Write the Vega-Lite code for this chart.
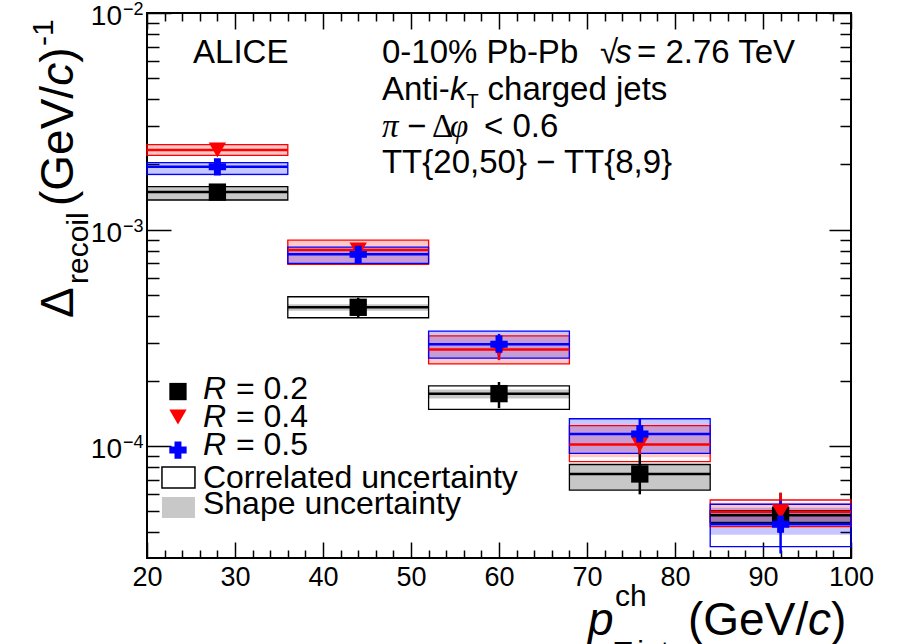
{
  "$schema": "https://vega.github.io/schema/vega-lite/v6.json",
  "width": 704,
  "height": 545,
  "autosize": {"type": "none"},
  "padding": {"left": 147, "top": 13, "right": 57, "bottom": 86},
  "background": "white",
  "config": {
    "view": {"stroke": "black", "strokeWidth": 2},
    "font": "Liberation Sans",
    "text": {"font": "Liberation Sans", "color": "black", "align": "left", "baseline": "alphabetic"}
  },
  "datasets": {
    "main": [
      {"R": "0.2", "xc": 28, "xlo": 20, "xhi": 36, "val": 0.00149, "stlo": 0.00145, "sthi": 0.00153, "shlo": 0.00137, "shhi": 0.00158, "colo": 0.00137, "cohi": 0.00158},
      {"R": "0.2", "xc": 44, "xlo": 36, "xhi": 52, "val": 0.000438, "stlo": 0.000395, "sthi": 0.000485, "shlo": 0.000422, "shhi": 0.000452, "colo": 0.000392, "cohi": 0.00049},
      {"R": "0.2", "xc": 60, "xlo": 52, "xhi": 68, "val": 0.000175, "stlo": 0.00015, "sthi": 0.000198, "shlo": 0.000166, "shhi": 0.000183, "colo": 0.000148, "cohi": 0.00019},
      {"R": "0.2", "xc": 76, "xlo": 68, "xhi": 84, "val": 0.0000745, "stlo": 0.00006, "sthi": 0.0001, "shlo": 0.0000628, "shhi": 0.0000824, "colo": 0.0000628, "cohi": 0.0000824},
      {"R": "0.2", "xc": 92, "xlo": 84, "xhi": 100, "val": 0.0000481, "stlo": 0.0000397, "sthi": 0.000061, "shlo": 0.0000445, "shhi": 0.0000505, "colo": 0.0000445, "cohi": 0.0000505},
      {"R": "0.4", "xc": 28, "xlo": 20, "xhi": 36, "val": 0.00233, "stlo": 0.00225, "sthi": 0.00242, "shlo": 0.0022, "shhi": 0.00247, "colo": 0.0022, "cohi": 0.00247},
      {"R": "0.4", "xc": 44, "xlo": 36, "xhi": 52, "val": 0.000805, "stlo": 0.00076, "sthi": 0.00085, "shlo": 0.0007, "shhi": 0.00089, "colo": 0.000692, "cohi": 0.000895},
      {"R": "0.4", "xc": 60, "xlo": 52, "xhi": 68, "val": 0.00028, "stlo": 0.00025, "sthi": 0.00031, "shlo": 0.00024, "shhi": 0.000323, "colo": 0.00024, "cohi": 0.000323},
      {"R": "0.4", "xc": 76, "xlo": 68, "xhi": 84, "val": 0.000102, "stlo": 0.000092, "sthi": 0.000112, "shlo": 0.000089, "shhi": 0.0001245, "colo": 0.000085, "cohi": 0.0001245},
      {"R": "0.4", "xc": 92, "xlo": 84, "xhi": 100, "val": 0.0000499, "stlo": 0.000044, "sthi": 0.000061, "shlo": 0.000045, "shhi": 0.000055, "colo": 0.0000426, "cohi": 0.0000565},
      {"R": "0.5", "xc": 28, "xlo": 20, "xhi": 36, "val": 0.00195, "stlo": 0.00188, "sthi": 0.00203, "shlo": 0.00178, "shhi": 0.00204, "colo": 0.0018, "cohi": 0.00204},
      {"R": "0.5", "xc": 44, "xlo": 36, "xhi": 52, "val": 0.000769, "stlo": 0.00072, "sthi": 0.00082, "shlo": 0.000699, "shhi": 0.00083, "colo": 0.000699, "cohi": 0.00083},
      {"R": "0.5", "xc": 60, "xlo": 52, "xhi": 68, "val": 0.000296, "stlo": 0.00026, "sthi": 0.00033, "shlo": 0.000255, "shhi": 0.00034, "colo": 0.000255, "cohi": 0.00034},
      {"R": "0.5", "xc": 76, "xlo": 68, "xhi": 84, "val": 0.000114, "stlo": 0.000096, "sthi": 0.000134, "shlo": 0.0000927, "shhi": 0.000134, "colo": 0.0000927, "cohi": 0.000134},
      {"R": "0.5", "xc": 92, "xlo": 84, "xhi": 100, "val": 0.0000437, "stlo": 0.000032, "sthi": 0.000056, "shlo": 0.000039, "shhi": 0.000052, "colo": 0.0000344, "cohi": 0.000054}
    ],
    "decades": [
      {"v": 0.01, "e": "−2"},
      {"v": 0.001, "e": "−3"},
      {"v": 0.0001, "e": "−4"}
    ]
  },
  "data": {"name": "main"},
  "resolve": {"axis": {"x": "independent", "y": "independent"}},
  "layer": [
    {
      "mark": {"type": "rect", "fillOpacity": 0.22, "strokeWidth": 0},
      "encoding": {
        "x": {"field": "xlo", "type": "quantitative", "scale": {"domain": [20, 100], "nice": false, "zero": false},
          "axis": {"orient": "bottom", "title": null, "grid": false, "domain": false,
            "values": [20,22,24,26,28,30,32,34,36,38,40,42,44,46,48,50,52,54,56,58,60,62,64,66,68,70,72,74,76,78,80,82,84,86,88,90,92,94,96,98,100],
            "labelExpr": "datum.value % 10 === 0 ? datum.label : ''",
            "tickSize": {"condition": {"test": "datum.value % 10 === 0", "value": -16}, "value": -8},
            "tickColor": "black", "tickWidth": 1.5, "labelPadding": 22,
            "labelFont": "Liberation Sans", "labelFontSize": 27, "labelColor": "black",
            "labelFlush": false, "labelOverlap": false, "labelBound": false}},
        "x2": {"field": "xhi"},
        "y": {"field": "shlo", "type": "quantitative", "scale": {"type": "log", "domain": [0.0000305, 0.01], "nice": false},
          "axis": {"orient": "left", "title": null, "grid": false, "domain": false, "labels": false,
            "values": [0.00004,0.00005,0.00006,0.00007,0.00008,0.00009,0.0001,0.0002,0.0003,0.0004,0.0005,0.0006,0.0007,0.0008,0.0009,0.001,0.002,0.003,0.004,0.005,0.006,0.007,0.008,0.009,0.01],
            "tickSize": {"condition": {"test": "datum.value === 0.01 || datum.value === 0.001 || datum.value === 0.0001", "value": -24}, "value": -12},
            "tickColor": "black", "tickWidth": 1.5}},
        "y2": {"field": "shhi"},
        "fill": {"field": "R", "type": "nominal", "scale": {"domain": ["0.2", "0.4", "0.5"], "range": ["#000000", "#ff0000", "#0000ff"]}, "legend": null}
      }
    },
    {
      "mark": {"type": "rect", "fillOpacity": 0, "strokeWidth": 1.3},
      "encoding": {
        "x": {"field": "xlo", "type": "quantitative",
          "axis": {"orient": "top", "title": null, "grid": false, "domain": false, "labels": false,
            "values": [20,22,24,26,28,30,32,34,36,38,40,42,44,46,48,50,52,54,56,58,60,62,64,66,68,70,72,74,76,78,80,82,84,86,88,90,92,94,96,98,100],
            "tickSize": {"condition": {"test": "datum.value % 10 === 0", "value": -16}, "value": -8},
            "tickColor": "black", "tickWidth": 1.5}},
        "x2": {"field": "xhi"},
        "y": {"field": "colo", "type": "quantitative",
          "axis": {"orient": "right", "title": null, "grid": false, "domain": false, "labels": false,
            "values": [0.00004,0.00005,0.00006,0.00007,0.00008,0.00009,0.0001,0.0002,0.0003,0.0004,0.0005,0.0006,0.0007,0.0008,0.0009,0.001,0.002,0.003,0.004,0.005,0.006,0.007,0.008,0.009,0.01],
            "tickSize": {"condition": {"test": "datum.value === 0.01 || datum.value === 0.001 || datum.value === 0.0001", "value": -22}, "value": -11},
            "tickColor": "black", "tickWidth": 1.5}},
        "y2": {"field": "cohi"},
        "stroke": {"field": "R", "type": "nominal", "scale": {"domain": ["0.2", "0.4", "0.5"], "range": ["#000000", "#ff0000", "#0000ff"]}, "legend": null}
      }
    },
    {
      "mark": {"type": "rule", "strokeWidth": 2.5},
      "encoding": {
        "x": {"field": "xlo", "type": "quantitative", "axis": null},
        "x2": {"field": "xhi"},
        "y": {"field": "val", "type": "quantitative", "axis": null},
        "color": {"field": "R", "type": "nominal", "scale": {"domain": ["0.2", "0.4", "0.5"], "range": ["#000000", "#ff0000", "#0000ff"]}, "legend": null}
      }
    },
    {
      "mark": {"type": "rule", "strokeWidth": 2.5},
      "encoding": {
        "x": {"field": "xc", "type": "quantitative", "axis": null},
        "y": {"field": "stlo", "type": "quantitative", "axis": null},
        "y2": {"field": "sthi"},
        "color": {"field": "R", "type": "nominal", "legend": null}
      }
    },
    {
      "mark": {"type": "point", "filled": true, "opacity": 1, "size": 300},
      "encoding": {
        "x": {"field": "xc", "type": "quantitative", "axis": null},
        "y": {"field": "val", "type": "quantitative", "axis": null},
        "color": {"field": "R", "type": "nominal", "legend": null},
        "shape": {"field": "R", "type": "nominal", "scale": {"domain": ["0.2", "0.4", "0.5"], "range": ["square", "triangle-down", "cross"]}, "legend": null}
      }
    },
    {"data": {"name": "decades"}, "mark": {"type": "text", "text": "10", "fontSize": 28, "align": "right", "dy": 12},
      "encoding": {"x": {"datum": 17.16, "axis": null}, "y": {"field": "v", "type": "quantitative", "axis": null}}},
    {"data": {"name": "decades"}, "mark": {"type": "text", "fontSize": 18, "align": "left", "dy": 2},
      "encoding": {"x": {"datum": 17.27, "axis": null}, "y": {"field": "v", "type": "quantitative", "axis": null}, "text": {"field": "e"}}},
    {"data": {"values": [{}]}, "mark": {"type": "point", "shape": "square", "filled": true, "opacity": 1, "color": "#000000", "size": 300},
      "encoding": {"x": {"datum": 23.52, "axis": null}, "y": {"datum": 0.0001789, "axis": null}}},
    {"data": {"values": [{}]}, "mark": {"type": "point", "shape": "triangle-down", "filled": true, "opacity": 1, "color": "#ff0000", "size": 300},
      "encoding": {"x": {"datum": 23.52, "axis": null}, "y": {"datum": 0.0001364, "axis": null}}},
    {"data": {"values": [{}]}, "mark": {"type": "point", "shape": "cross", "filled": true, "opacity": 1, "color": "#0000ff", "size": 300},
      "encoding": {"x": {"datum": 23.52, "axis": null}, "y": {"datum": 0.00009605, "axis": null}}},
    {"data": {"values": [{}]}, "mark": {"type": "rect", "fillOpacity": 0, "stroke": "black", "strokeWidth": 1.5},
      "encoding": {"x": {"datum": 21.7, "axis": null}, "x2": {"datum": 25.45}, "y": {"datum": 0.0000802, "axis": null}, "y2": {"datum": 0.0000641}}},
    {"data": {"values": [{}]}, "mark": {"type": "rect", "fill": "#c8c8c8", "strokeWidth": 0},
      "encoding": {"x": {"datum": 21.7, "axis": null}, "x2": {"datum": 25.45}, "y": {"datum": 0.0000583, "axis": null}, "y2": {"datum": 0.0000466}}},
    {"data": {"values": [{}]}, "mark": {"type": "text", "text": "R", "fontSize": 32, "fontStyle": "italic"},
      "encoding": {"x": {"datum": 26.36, "axis": null}, "y": {"datum": 0.0001652, "axis": null}}},
    {"data": {"values": [{}]}, "mark": {"type": "text", "text": "= 0.2", "fontSize": 32},
      "encoding": {"x": {"datum": 30.11, "axis": null}, "y": {"datum": 0.0001652, "axis": null}}},
    {"data": {"values": [{}]}, "mark": {"type": "text", "text": "R", "fontSize": 32, "fontStyle": "italic"},
      "encoding": {"x": {"datum": 26.36, "axis": null}, "y": {"datum": 0.0001226, "axis": null}}},
    {"data": {"values": [{}]}, "mark": {"type": "text", "text": "= 0.4", "fontSize": 32},
      "encoding": {"x": {"datum": 30.11, "axis": null}, "y": {"datum": 0.0001226, "axis": null}}},
    {"data": {"values": [{}]}, "mark": {"type": "text", "text": "R", "fontSize": 32, "fontStyle": "italic"},
      "encoding": {"x": {"datum": 26.36, "axis": null}, "y": {"datum": 0.0000911, "axis": null}}},
    {"data": {"values": [{}]}, "mark": {"type": "text", "text": "= 0.5", "fontSize": 32},
      "encoding": {"x": {"datum": 30.11, "axis": null}, "y": {"datum": 0.0000911, "axis": null}}},
    {"data": {"values": [{}]}, "mark": {"type": "text", "text": "Correlated uncertainty", "fontSize": 32},
      "encoding": {"x": {"datum": 26.36, "axis": null}, "y": {"datum": 0.0000641, "axis": null}}},
    {"data": {"values": [{}]}, "mark": {"type": "text", "text": "Shape uncertainty", "fontSize": 32},
      "encoding": {"x": {"datum": 26.36, "axis": null}, "y": {"datum": 0.0000486, "axis": null}}},
    {"data": {"values": [{}]}, "mark": {"type": "text", "text": "ALICE", "fontSize": 33},
      "encoding": {"x": {"datum": 25.23, "axis": null}, "y": {"datum": 0.005877, "axis": null}}},
    {"data": {"values": [{}]}, "mark": {"type": "text", "text": "0-10% Pb-Pb", "fontSize": 33},
      "encoding": {"x": {"datum": 46.7, "axis": null}, "y": {"datum": 0.005877, "axis": null}}},
    {"data": {"values": [{}]}, "mark": {"type": "text", "text": "√", "fontSize": 33},
      "encoding": {"x": {"datum": 71.48, "axis": null}, "y": {"datum": 0.005877, "axis": null}}},
    {"data": {"values": [{}]}, "mark": {"type": "text", "text": "s", "fontSize": 33, "fontStyle": "italic"},
      "encoding": {"x": {"datum": 73.2, "axis": null}, "y": {"datum": 0.005877, "axis": null}}},
    {"data": {"values": [{}]}, "mark": {"type": "text", "text": "= 2.76 TeV", "fontSize": 33},
      "encoding": {"x": {"datum": 75.68, "axis": null}, "y": {"datum": 0.005877, "axis": null}}},
    {"data": {"values": [{}]}, "mark": {"type": "text", "text": "Anti-", "fontSize": 33},
      "encoding": {"x": {"datum": 46.7, "axis": null}, "y": {"datum": 0.003966, "axis": null}}},
    {"data": {"values": [{}]}, "mark": {"type": "text", "text": "k", "fontSize": 33, "fontStyle": "italic"},
      "encoding": {"x": {"datum": 54.43, "axis": null}, "y": {"datum": 0.003966, "axis": null}}},
    {"data": {"values": [{}]}, "mark": {"type": "text", "text": "T", "fontSize": 20},
      "encoding": {"x": {"datum": 56.3, "axis": null}, "y": {"datum": 0.00364, "axis": null}}},
    {"data": {"values": [{}]}, "mark": {"type": "text", "text": "charged jets", "fontSize": 33},
      "encoding": {"x": {"datum": 58.7, "axis": null}, "y": {"datum": 0.003966, "axis": null}}},
    {"data": {"values": [{}]}, "mark": {"type": "text", "text": "π", "fontSize": 33, "font": "Liberation Serif", "fontStyle": "italic"},
      "encoding": {"x": {"datum": 46.7, "axis": null}, "y": {"datum": 0.002676, "axis": null}}},
    {"data": {"values": [{}]}, "mark": {"type": "text", "text": "−", "fontSize": 33},
      "encoding": {"x": {"datum": 49.55, "axis": null}, "y": {"datum": 0.002676, "axis": null}}},
    {"data": {"values": [{}]}, "mark": {"type": "text", "text": "Δ", "fontSize": 33, "font": "Liberation Serif"},
      "encoding": {"x": {"datum": 52.39, "axis": null}, "y": {"datum": 0.002676, "axis": null}}},
    {"data": {"values": [{}]}, "mark": {"type": "text", "text": "φ", "fontSize": 33, "font": "Liberation Serif", "fontStyle": "italic"},
      "encoding": {"x": {"datum": 54.43, "axis": null}, "y": {"datum": 0.002676, "axis": null}}},
    {"data": {"values": [{}]}, "mark": {"type": "text", "text": "< 0.6", "fontSize": 33},
      "encoding": {"x": {"datum": 58.3, "axis": null}, "y": {"datum": 0.002676, "axis": null}}},
    {"data": {"values": [{}]}, "mark": {"type": "text", "text": "TT{20,50} − TT{8,9}", "fontSize": 33},
      "encoding": {"x": {"datum": 46.7, "axis": null}, "y": {"datum": 0.001825, "axis": null}}},
    {"data": {"values": [{}]}, "mark": {"type": "text", "text": "Δ", "fontSize": 46, "angle": 270},
      "encoding": {"x": {"datum": 11.59, "axis": null}, "y": {"datum": 0.0003907, "axis": null}}},
    {"data": {"values": [{}]}, "mark": {"type": "text", "text": "recoil", "fontSize": 30, "angle": 270},
      "encoding": {"x": {"datum": 13.3, "axis": null}, "y": {"datum": 0.0005609, "axis": null}}},
    {"data": {"values": [{}]}, "mark": {"type": "text", "text": "(GeV/", "fontSize": 46, "angle": 270},
      "encoding": {"x": {"datum": 11.59, "axis": null}, "y": {"datum": 0.001285, "axis": null}}},
    {"data": {"values": [{}]}, "mark": {"type": "text", "text": "c", "fontSize": 46, "fontStyle": "italic", "angle": 270},
      "encoding": {"x": {"datum": 11.59, "axis": null}, "y": {"datum": 0.004612, "axis": null}}},
    {"data": {"values": [{}]}, "mark": {"type": "text", "text": ")", "fontSize": 46, "angle": 270},
      "encoding": {"x": {"datum": 11.59, "axis": null}, "y": {"datum": 0.005889, "axis": null}}},
    {"data": {"values": [{}]}, "mark": {"type": "text", "text": "-1", "fontSize": 30, "angle": 270},
      "encoding": {"x": {"datum": 9.32, "axis": null}, "y": {"datum": 0.007037, "axis": null}}},
    {"data": {"values": [{}]}, "mark": {"type": "text", "text": "p", "fontSize": 46, "fontStyle": "italic"},
      "encoding": {"x": {"datum": 70.11, "axis": null}, "y": {"datum": 0.00001344, "axis": null}}},
    {"data": {"values": [{}]}, "mark": {"type": "text", "text": "ch", "fontSize": 30},
      "encoding": {"x": {"datum": 73.18, "axis": null}, "y": {"datum": 0.00001829, "axis": null}}},
    {"data": {"values": [{}]}, "mark": {"type": "text", "text": "T,jet", "fontSize": 30},
      "encoding": {"x": {"datum": 73.07, "axis": null}, "y": {"datum": 0.000010085, "axis": null}}},
    {"data": {"values": [{}]}, "mark": {"type": "text", "text": "(GeV/", "fontSize": 46},
      "encoding": {"x": {"datum": 81.48, "axis": null}, "y": {"datum": 0.00001344, "axis": null}}},
    {"data": {"values": [{}]}, "mark": {"type": "text", "text": "c", "fontSize": 46, "fontStyle": "italic"},
      "encoding": {"x": {"datum": 95.11, "axis": null}, "y": {"datum": 0.00001344, "axis": null}}},
    {"data": {"values": [{}]}, "mark": {"type": "text", "text": ")", "fontSize": 46},
      "encoding": {"x": {"datum": 97.73, "axis": null}, "y": {"datum": 0.00001344, "axis": null}}}
  ]
}
